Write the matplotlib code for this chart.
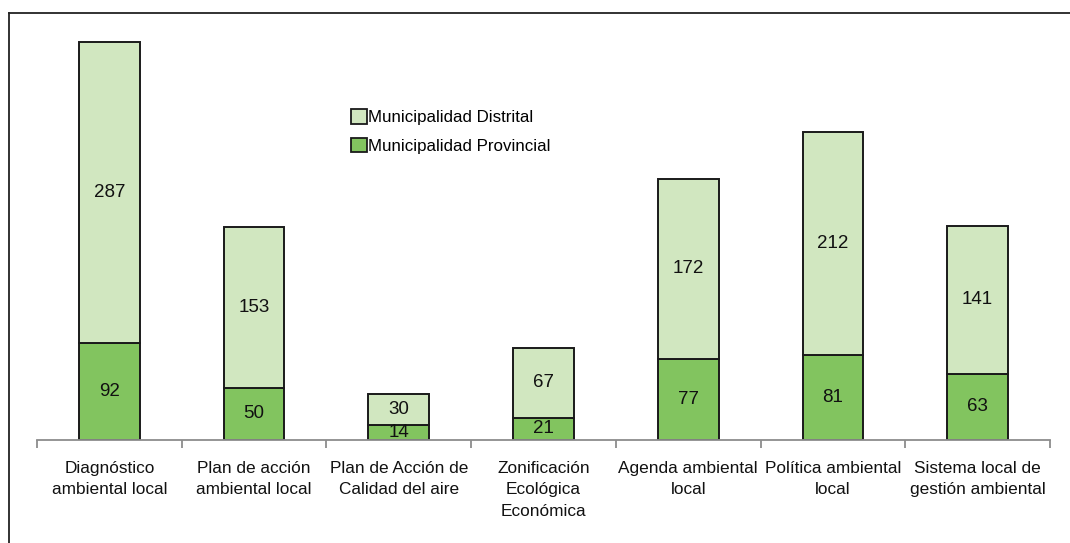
import numpy as np
import matplotlib.pyplot as plt
from matplotlib.patches import Patch
from matplotlib.lines import Line2D

plt.rcParams['font.family'] = ['Liberation Sans', 'DejaVu Sans']

categories = [
    "Diagnóstico\nambiental local",
    "Plan de acción\nambiental local",
    "Plan de Acción de\nCalidad del aire",
    "Zonificación\nEcológica\nEconómica",
    "Agenda ambiental\nlocal",
    "Política ambiental\nlocal",
    "Sistema local de\ngestión ambiental",
]
provincial = [92, 50, 14, 21, 77, 81, 63]
distrital = [287, 153, 30, 67, 172, 212, 141]

col_dist = "#d1e7c0"
col_prov = "#82c45f"

W, H = 1070, 543
fig = plt.figure(figsize=(W / 100, H / 100), dpi=100)

# axes box in pixels: left 37, right 1050, baseline at y=440, top at y=20
ax = fig.add_axes([37 / W, (H - 440) / H, (1050 - 37) / W, (440 - 20) / H])

x = np.arange(len(categories))
bw = 0.42
ax.bar(x, provincial, bw, color=col_prov, edgecolor="#1a1a1a", linewidth=1.4,
       label="Municipalidad Provincial", zorder=2)
ax.bar(x, distrital, bw, bottom=provincial, color=col_dist, edgecolor="#1a1a1a",
       linewidth=1.4, label="Municipalidad Distrital", zorder=2)

for i in range(len(x)):
    ax.text(x[i], provincial[i] / 2, str(provincial[i]), ha="center", va="center",
            fontsize=13.5, color="#111111", zorder=3)
    ax.text(x[i], provincial[i] + distrital[i] / 2, str(distrital[i]), ha="center",
            va="center", fontsize=13.5, color="#111111", zorder=3)

ax.set_xlim(-0.5, len(x) - 0.5)
ax.set_ylim(0, 400)
for s in ["top", "right", "left"]:
    ax.spines[s].set_visible(False)
ax.spines["bottom"].set_color("#8c8c8c")
ax.spines["bottom"].set_linewidth(1.3)
ax.set_yticks([])
ax.set_xticks(np.arange(len(x) + 1) - 0.5, minor=True)
ax.set_xticks(x)
ax.set_xticklabels(categories, fontsize=12.4, color="#111111", linespacing=1.55)
ax.tick_params(axis="x", which="major", length=0, pad=15)
ax.tick_params(axis="x", which="minor", length=6, width=1.3, color="#8c8c8c")

handles = [
    Patch(facecolor=col_dist, edgecolor="#1a1a1a", linewidth=1.3, label="Municipalidad Distrital"),
    Patch(facecolor=col_prov, edgecolor="#1a1a1a", linewidth=1.3, label="Municipalidad Provincial"),
]
fig.legend(handles=handles, loc="upper left", bbox_to_anchor=(343 / W, 1 - 101 / H),
           frameon=False, fontsize=12.2, handlelength=0.9, handleheight=0.9,
           handletextpad=0.1, labelspacing=0.75, borderpad=0)

# outer frame (left and top edges)
fig.add_artist(Line2D([9 / W, 9 / W], [0, 1 - 13 / H], transform=fig.transFigure,
                      color="#222222", linewidth=1.3))
fig.add_artist(Line2D([9 / W, 1], [1 - 13 / H, 1 - 13 / H], transform=fig.transFigure,
                      color="#222222", linewidth=1.3))

fig.savefig("out.png", dpi=100)
